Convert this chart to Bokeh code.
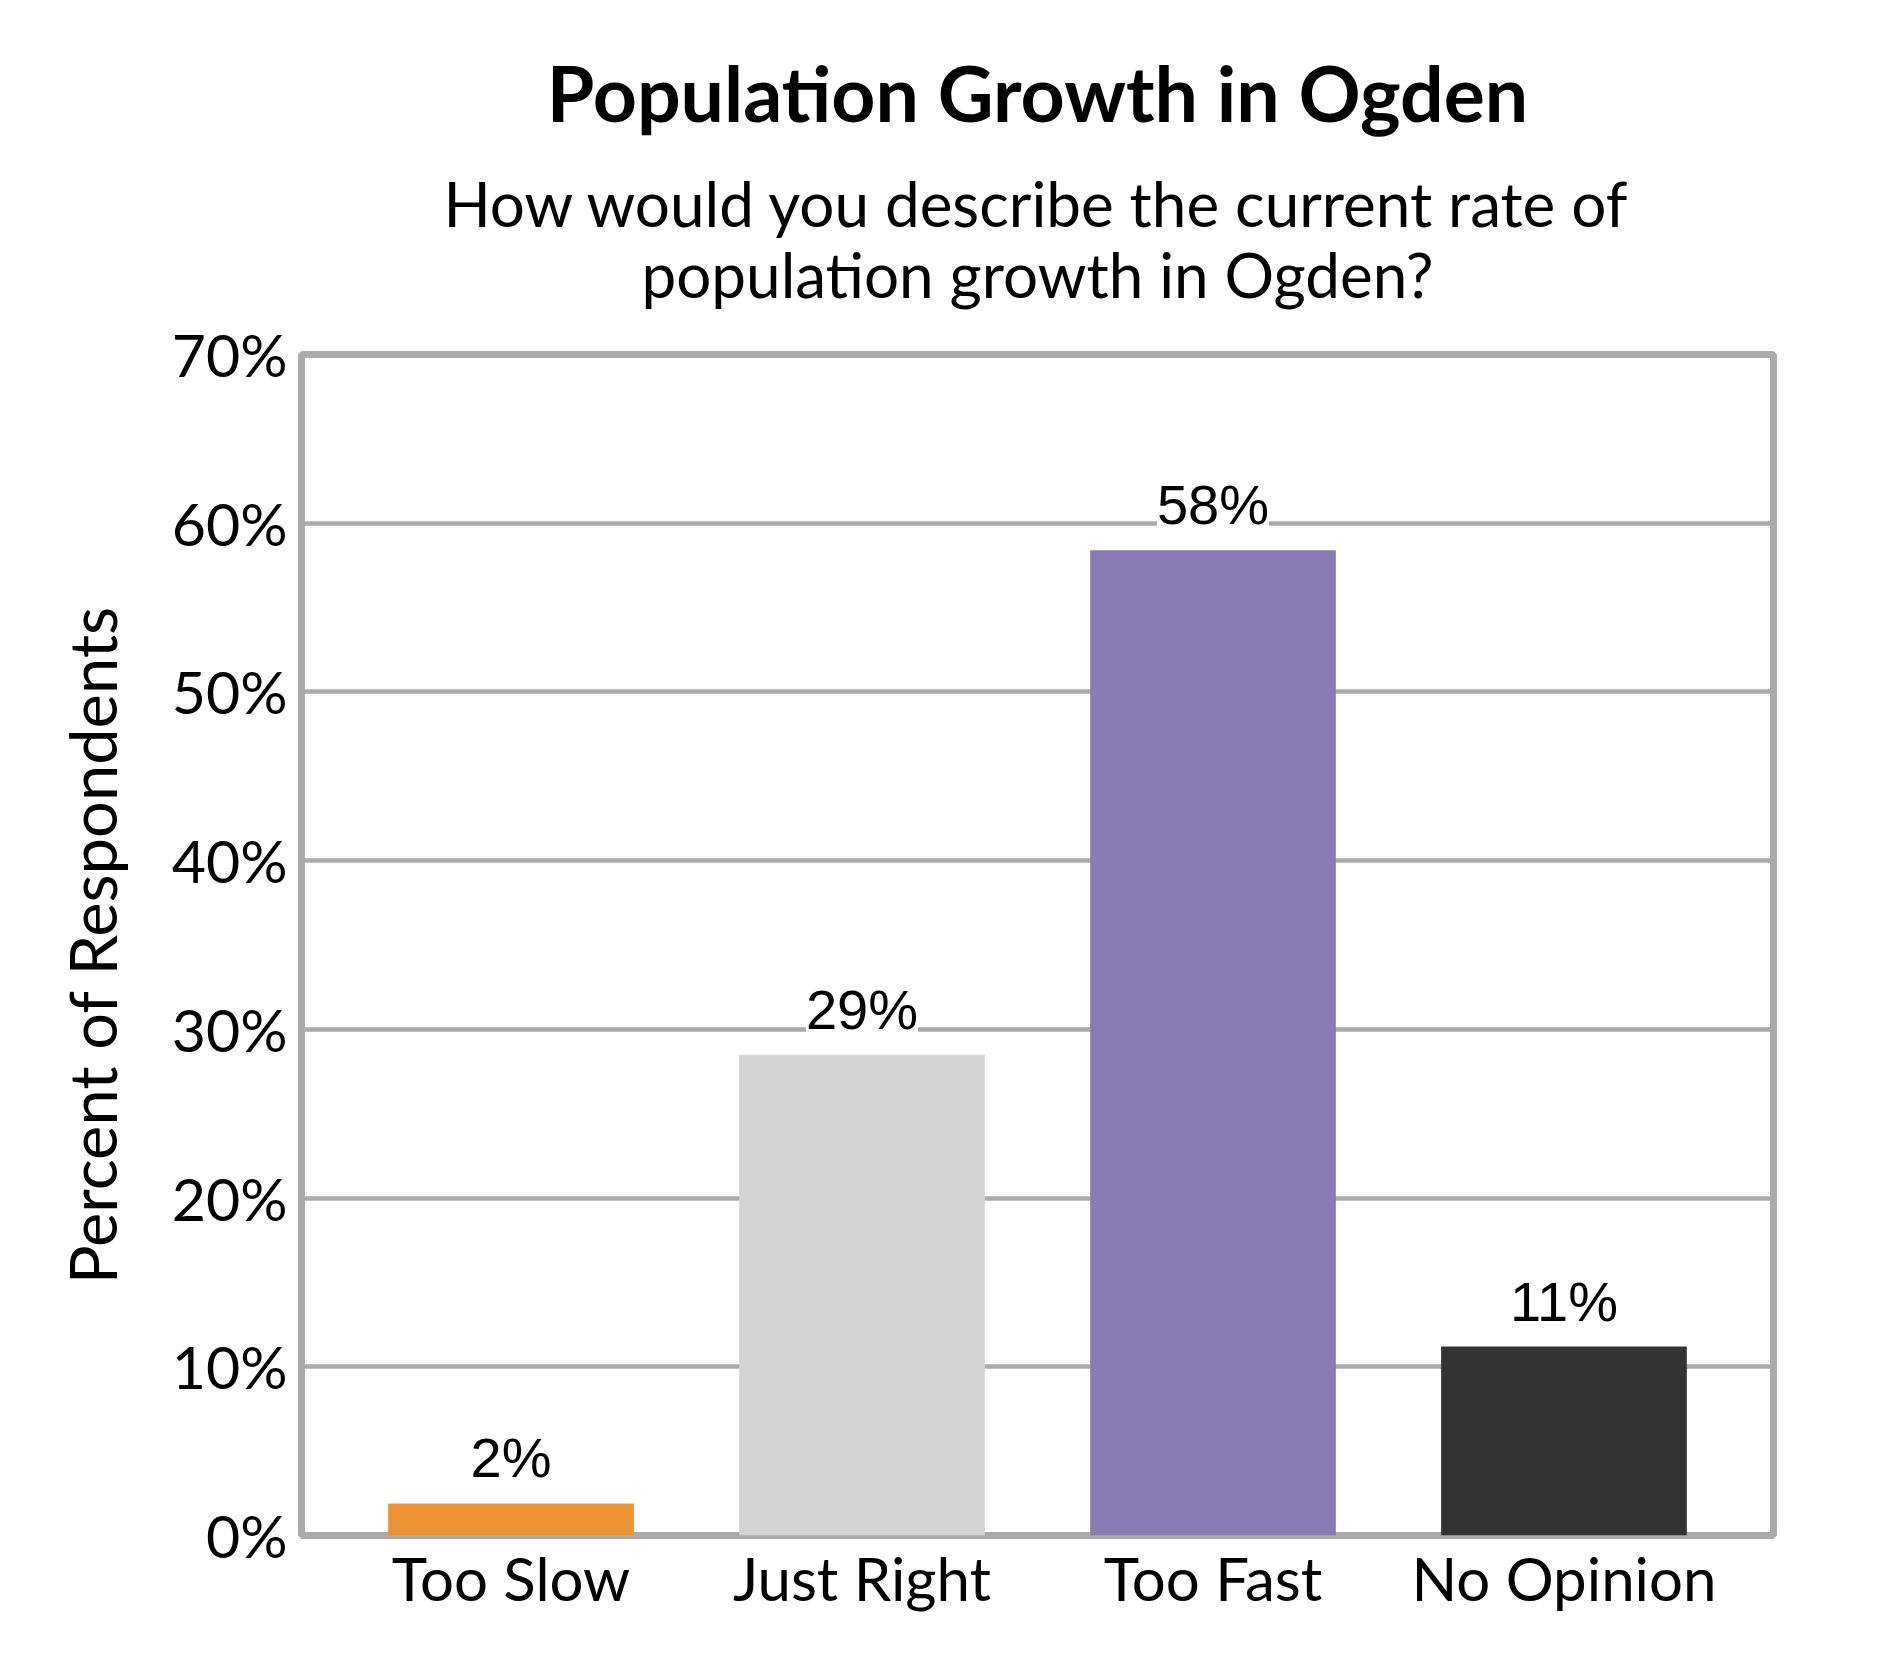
from bokeh.plotting import figure
from bokeh.models import (ColumnDataSource, FactorRange, Range1d, FixedTicker,
                          PrintfTickFormatter, LabelSet, Title)
from bokeh.core.properties import value
from bokeh.embed import file_html
from bokeh.resources import INLINE

# ---- data ----
categories = ["Too Slow", "Just Right", "Too Fast", "No Opinion"]
values = [1.9, 28.5, 58.4, 11.2]
value_labels = ["2%", "29%", "58%", "11%"]
colors = ["#EB9234", "#D4D4D4", "#897BB4", "#333333"]
y_ticks = [0, 10, 20, 30, 40, 50, 60, 70]

title_text = "Population Growth in Ogden"
subtitle_lines = ["How would you describe the current rate of",
                  "population growth in Ogden?"]
y_label = "Percent of Respondents"

GRID = "#ABABAB"
CAL = "Lato"

source = ColumnDataSource(dict(cat=categories, val=values, lab=value_labels, col=colors))

p = figure(
    width=1874, height=1664,
    x_range=FactorRange(factors=categories, range_padding=0.0485, range_padding_units="percent"),
    y_range=Range1d(0, 70),
    output_backend="svg", toolbar_location=None,
    min_border_left=301, min_border_right=101, min_border_top=354, min_border_bottom=129,
    background_fill_color="white", border_fill_color="white",
)
p.title.visible = False

# titles stack upward from the plot frame (first added = closest to plot)
# blank spacer between frame and subtitle
p.add_layout(Title(text=" ", align="center", text_font=CAL, text_font_size="10px",
                   standoff=30), "above")
p.add_layout(Title(text=subtitle_lines[1], align="center", text_font=CAL,
                   text_font_size="62px", text_font_style="normal", text_color="black",
                   standoff=0), "above")
p.add_layout(Title(text=subtitle_lines[0], align="center", text_font=CAL,
                   text_font_size="62px", text_font_style="normal", text_color="black",
                   standoff=-11), "above")
p.add_layout(Title(text=title_text, align="center", text_font=CAL,
                   text_font_size="77px", text_font_style="bold", text_color="black",
                   standoff=64), "above")

p.vbar(x="cat", top="val", width=0.70, source=source, fill_color="col", line_color=None)

labels = LabelSet(x="cat", y="val", text="lab", source=source, y_offset=26,
                  text_align="center", text_baseline="alphabetic",
                  text_font=value("Liberation Sans"), text_font_size="56px", text_color="black",
                  background_fill_color="white", background_fill_alpha=1.0)
p.add_layout(labels)

# frame / grid
p.outline_line_color = GRID
p.outline_line_width = 7
p.xgrid.grid_line_color = None
p.ygrid.grid_line_color = GRID
p.ygrid.grid_line_width = 4.5
p.ygrid.ticker = FixedTicker(ticks=y_ticks)

# y axis
p.yaxis.ticker = FixedTicker(ticks=y_ticks)
p.yaxis.formatter = PrintfTickFormatter(format="%d%%")
p.yaxis.axis_line_color = None
p.yaxis.major_tick_line_color = None
p.yaxis.minor_tick_line_color = None
p.yaxis.major_label_text_font = CAL
p.yaxis.major_label_text_font_size = "59px"
p.yaxis.major_label_text_color = "black"
p.yaxis.major_label_standoff = 8
p.yaxis.axis_label = y_label
p.yaxis.axis_label_text_font = CAL
p.yaxis.axis_label_text_font_size = "65px"
p.yaxis.axis_label_text_font_style = "normal"
p.yaxis.axis_label_text_color = "black"
p.yaxis.axis_label_standoff = 38

# x axis
p.xaxis.axis_line_color = None
p.xaxis.major_tick_line_color = None
p.xaxis.minor_tick_line_color = None
p.xaxis.major_label_text_font = CAL
p.xaxis.major_label_text_font_size = "60px"
p.xaxis.major_label_text_color = "black"
p.xaxis.major_label_standoff = 0

open("out.html", "w").write(file_html(p, INLINE))
